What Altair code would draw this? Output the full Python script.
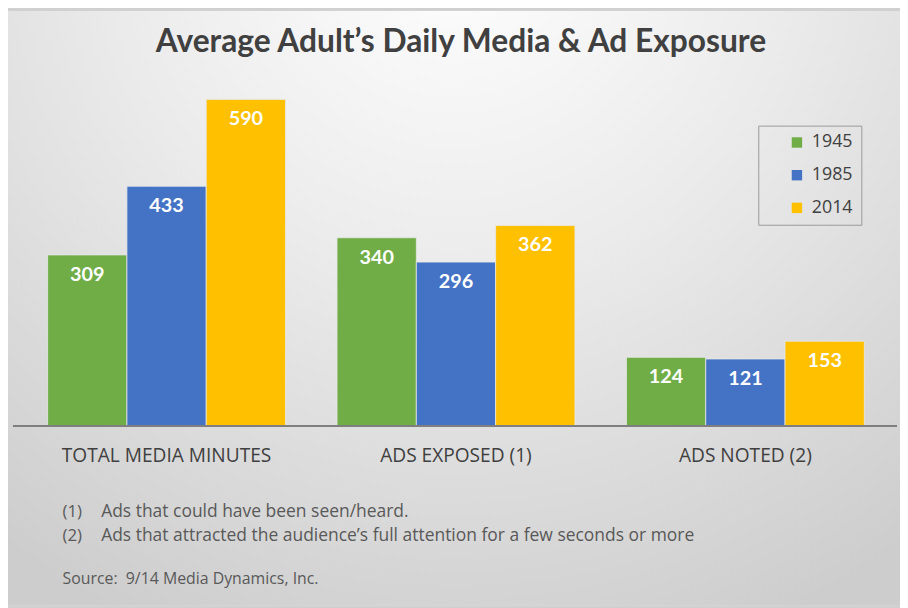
import altair as alt
import pandas as pd

categories = ["TOTAL MEDIA MINUTES", "ADS EXPOSED (1)", "ADS NOTED (2)"]
years = ["1945", "1985", "2014"]
v1945 = [309, 340, 124]
v1985 = [433, 296, 121]
v2014 = [590, 362, 153]
colors = ["#70AD47", "#4472C4", "#FFC000"]
note_marks = ["(1)", "(2)"]
note_texts = ["Ads that could have been seen/heard.",
              "Ads that attracted the audience\u2019s full attention for a few seconds or more"]
source_text = "Source:\u00a0\u00a09/14 Media Dynamics, Inc."
title_text = "Average Adult\u2019s Daily Media & Ad Exposure"

rows = []
for yr, vals in zip(years, [v1945, v1985, v2014]):
    for c, v in zip(categories, vals):
        rows.append({"category": c, "year": yr, "value": v})
df = pd.DataFrame(rows)

W, H = 876, 363
FONT = "Open Sans"
TFONT = "Lato"

bg = alt.Chart(alt.Data(values=[{}])).mark_rect(
    fill=alt.Gradient(
        gradient="radial",
        stops=[alt.GradientStop(color="#ffffff", offset=0),
               alt.GradientStop(color="#ebebeb", offset=0.45),
               alt.GradientStop(color="#cdcdcd", offset=1)],
        x1=0.5, y1=0.08, r1=0, x2=0.5, y2=0.08, r2=0.85),
    clip=False
).encode(x=alt.value(-14), x2=alt.value(886), y=alt.value(-56), y2=alt.value(544))

base = alt.Chart(df)
xenc = alt.X("category:N", sort=categories,
             scale=alt.Scale(paddingInner=0.178, paddingOuter=0.089),
             axis=alt.Axis(title=None, domain=False, ticks=False, labelAngle=0,
                           labelFontSize=19.3, labelColor="#404040", labelFont=FONT,
                           labelPadding=21, labelLimit=0, grid=False, zindex=2))
yenc = alt.Y("value:Q", scale=alt.Scale(domain=[0, 650], nice=False), axis=None)

bars = base.mark_bar(stroke="#e8e8e8", strokeWidth=0.8).encode(
    x=xenc,
    xOffset=alt.XOffset("year:N", sort=years),
    y=yenc,
    color=alt.Color("year:N", sort=years,
                    scale=alt.Scale(domain=years, range=colors),
                    legend=alt.Legend(title=None, orient="none", legendX=743, legendY=60,
                                      strokeColor="#9a9a9a", padding=8,
                                      symbolType="square", symbolSize=110,
                                      symbolStrokeWidth=0, symbolOffset=22,
                                      labelFontSize=18, labelColor="#404040",
                                      labelFont=FONT, rowPadding=15, labelOffset=6)),
)

labels = base.mark_text(color="white", fontSize=20, fontWeight="bold", font=TFONT,
                        baseline="middle", dy=20).encode(
    x=alt.X("category:N", sort=categories),
    xOffset=alt.XOffset("year:N", sort=years),
    y=yenc,
    text="value:Q",
)

axis_line = alt.Chart(alt.Data(values=[{"v": 0}])).mark_rule(
    color="#7f7f7f", strokeWidth=2, clip=False).encode(
    y=alt.Y("v:Q", scale=alt.Scale(domain=[0, 650], nice=False), axis=None),
    x=alt.value(-9), x2=alt.value(883))

notes_df = pd.DataFrame({"mark": note_marks, "text": note_texts, "row": [0, 1]})
note_y = alt.Y("row:Q", axis=None, scale=alt.Scale(domain=[0, 1], range=[450, 474]))
note_mark_layer = alt.Chart(notes_df).mark_text(
    align="left", baseline="middle", fontSize=17, color="#595959", font=FONT, clip=False
).encode(x=alt.value(41), y=note_y, text="mark:N")
note_text_layer = alt.Chart(notes_df).mark_text(
    align="left", baseline="middle", fontSize=17.6, color="#595959", font=FONT, clip=False
).encode(x=alt.value(80), y=note_y, text="text:N")
source_layer = alt.Chart(alt.Data(values=[{"t": source_text}])).mark_text(
    align="left", baseline="middle", fontSize=16, color="#595959", font=FONT, clip=False
).encode(x=alt.value(41), y=alt.value(517), text="t:N")

title_layer = alt.Chart(alt.Data(values=[{"t": title_text}])).mark_text(
    align="center", baseline="middle", fontSize=32, fontWeight="bold",
    color="#404040", font=TFONT, clip=False
).encode(x=alt.value(W / 2 + 5), y=alt.value(-24), text="t:N")

chart = alt.layer(bg, bars, labels, axis_line, note_mark_layer, note_text_layer,
                  source_layer, title_layer).resolve_scale(y="independent").properties(
    width=W, height=H,
    autosize=alt.AutoSizeParams(type="none"),
    padding={"left": 14, "top": 56, "right": 10, "bottom": 181},
).configure_view(stroke=None).configure(background="#d0d0d0")

chart.save("out.html", embed_options={"renderer": "svg", "actions": False})
